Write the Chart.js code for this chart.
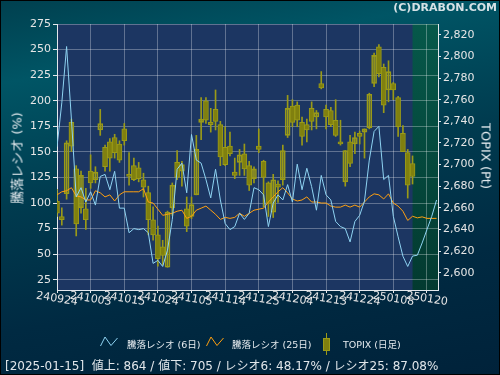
<!DOCTYPE html>
<html lang="ja">
<head>
<meta charset="UTF-8">
<title>騰落レシオ と TOPIX</title>
<script src="https://cdn.jsdelivr.net/npm/chart.js"></script>
<style>
  body { margin: 0; background: #000; }
  #wrap {
    position: relative; width: 500px; height: 375px; overflow: hidden;
    background: linear-gradient(170deg, #00404f 0%, #005565 18%, #003b4f 45%, #002a42 72%, #00223a 100%);
    box-shadow: inset 0 0 0 1px #000;
    font-family: "DejaVu Sans", "Noto Sans CJK JP", sans-serif;
    color: #e4eaee;
  }
  #c { position: absolute; left: 0; top: 0; }
  .abs { position: absolute; white-space: nowrap; }
  #copy { right: 3px; top: 1px; font-weight: bold; font-size: 11px; color: #d6e2e6; }
  #ytitle { left: 16px; top: 158px; font-size: 13px; transform: translate(-50%, -50%) rotate(-90deg); }
  #rtitle { left: 486px; top: 156px; font-size: 13px; transform: translate(-50%, -50%) rotate(90deg); }
  .lg { font-size: 9.5px; top: 337px; }
  #status { left: 5px; top: 356px; font-size: 12px; color: #e0e6ea; }
</style>
</head>
<body>
<div id="wrap">
  <canvas id="c" width="500" height="375"></canvas>
  <div id="copy" class="abs">(C)DRABON.COM</div>
  <div id="ytitle" class="abs">騰落レシオ (%)</div>
  <div id="rtitle" class="abs">TOPIX (Pt)</div>

  <svg class="abs" style="left:100px;top:336px" width="18" height="11">
    <polyline points="0.5,10 5,1 11,9.5 17.5,2" fill="none" stroke="#8ed3f2" stroke-width="1"/>
  </svg>
  <div class="abs lg" style="left:127px">騰落レシオ (6日)</div>
  <svg class="abs" style="left:206px;top:336px" width="18" height="11">
    <polyline points="0.5,10 5,1 11,9.5 17.5,2" fill="none" stroke="#ffa010" stroke-width="1"/>
  </svg>
  <div class="abs lg" style="left:232px">騰落レシオ (25日)</div>
  <svg class="abs" style="left:322px;top:333px" width="9" height="22">
    <line x1="4.5" y1="0" x2="4.5" y2="22" stroke="#9a9a18" stroke-width="1"/>
    <rect x="1.5" y="5.5" width="6" height="12" fill="#80800f" stroke="#9a9a18" stroke-width="1"/>
  </svg>
  <div class="abs lg" style="left:343px">TOPIX (日足)</div>

  <div id="status" class="abs">[2025-01-15]&nbsp; 値上: 864 / 値下: 705 / レシオ6: 48.17% / レシオ25: 87.08%</div>
</div>

<script>
  // tick positions (trading-day index) and their labels
  const tickIdx = [0, 7, 14, 21, 28, 35, 42, 49, 56, 63, 70, 77];
  const dates = ['240924', '241003', '241015', '241024', '241105', '241114',
                 '241125', '241204', '241213', '241224', '250108', '250120'];

  // 騰落レシオ (6日)
  const ratio6 = [155, 198, 253, 182, 106, 115, 101, 111, 98, 126,
                  128, 113, 131, 95, 95, 71, 75, 74, 75, 71,
                  41, 44, 38, 54, 84, 133, 139, 110, 167, 142,
                  139, 123, 105, 133, 103, 80, 74, 77, 90, 84,
                  90, 115, 113, 108, 77, 100, 108, 103, 118, 101,
                  138, 113, 134, 116, 93, 127, 108, 103, 82, 77,
                  75, 62, 82, 88, 102, 142, 170, 175, 123, 127,
                  87, 67, 48, 38, 48.17, 49, 61, 74, 87, 103];

  // 騰落レシオ (25日)
  const ratio25 = [108, 111, 112, 115, 107, 106, 103, 103, 112, 110,
                   106, 108, 102, 108, 111, 111, 111, 111, 114, 101,
                   100, 94, 88, 89, 90, 92, 93, 85, 87, 93,
                   95, 97, 93, 89, 84, 86, 85, 86, 90, 87,
                   90, 93, 94, 95, 101, 106, 111, 115, 110, 104,
                   102, 103, 106, 101, 101, 100, 100, 97, 96, 96,
                   98, 96, 98, 96, 101, 106, 109, 108, 104, 109,
                   100, 97, 92, 83, 87.08, 85.5, 86.5, 85, 85, 85];

  // TOPIX daily OHLC
  const topixOpen = [2666, 2652, 2673, 2739, 2696, 2660, 2659, 2694, 2686, 2732,
                     2716, 2721, 2725, 2719, 2733, 2691, 2699, 2697, 2686, 2674,
                     2649, 2635, 2624, 2605, 2660, 2702, 2694, 2659, 2652, 2672,
                     2739, 2759, 2739, 2751, 2737, 2716, 2717, 2693, 2702, 2710,
                     2699, 2687, 2717, 2703, 2683, 2656, 2682, 2686, 2727, 2754,
                     2755, 2739, 2737, 2752, 2744, 2775, 2751, 2750, 2741, 2721,
                     2684, 2721, 2719, 2729, 2730, 2734, 2775, 2809, 2790, 2769,
                     2775, 2762, 2729, 2711, 2701];
  const topixHigh = [2677, 2660, 2722, 2742, 2699, 2694, 2678, 2709, 2698, 2751,
                     2718, 2724, 2728, 2722, 2738, 2711, 2706, 2702, 2692, 2680,
                     2661, 2643, 2630, 2657, 2683, 2713, 2703, 2670, 2670, 2727,
                     2762, 2762, 2752, 2769, 2740, 2735, 2730, 2706, 2714, 2719,
                     2703, 2698, 2733, 2704, 2684, 2691, 2685, 2718, 2764, 2760,
                     2758, 2744, 2742, 2758, 2750, 2786, 2755, 2753, 2760, 2741,
                     2713, 2727, 2730, 2731, 2733, 2766, 2803, 2811, 2793, 2796,
                     2776, 2763, 2736, 2714, 2708];
  const topixLow = [2652, 2644, 2668, 2712, 2634, 2655, 2640, 2678, 2683, 2727,
                    2694, 2694, 2706, 2702, 2718, 2681, 2685, 2684, 2670, 2635,
                    2630, 2606, 2607, 2605, 2653, 2686, 2680, 2638, 2650, 2672,
                    2723, 2738, 2730, 2732, 2699, 2699, 2708, 2687, 2690, 2690,
                    2676, 2683, 2711, 2661, 2652, 2651, 2665, 2681, 2725, 2735,
                    2735, 2718, 2721, 2732, 2733, 2770, 2733, 2735, 2726, 2718,
                    2680, 2698, 2710, 2719, 2706, 2733, 2772, 2781, 2748, 2758,
                    2760, 2726, 2712, 2669, 2682];
  const topixClose = [2655, 2649, 2720, 2717, 2645, 2690, 2649, 2683, 2693, 2738,
                      2698, 2706, 2711, 2704, 2722, 2689, 2686, 2687, 2679, 2649,
                      2635, 2613, 2616, 2656, 2681, 2688, 2700, 2643, 2663, 2714,
                      2742, 2741, 2737, 2740, 2707, 2700, 2710, 2690, 2709, 2696,
                      2681, 2696, 2714, 2688, 2664, 2686, 2679, 2713, 2752, 2739,
                      2741, 2726, 2732, 2740, 2748, 2771, 2744, 2737, 2727, 2719,
                      2713, 2701, 2725, 2726, 2733, 2765, 2801, 2784, 2755, 2786,
                      2769, 2735, 2712, 2681, 2689];

  const lastCandle = topixClose.length - 1;
  const candleLine = '#9a9a18';
  const candleFill = '#80800f';

  // plot background and the green zone after the last candle
  const backPlugin = {
    id: 'back',
    beforeDraw(chart) {
      const { ctx, chartArea: a, scales: { x } } = chart;
      ctx.save();
      ctx.fillStyle = '#1c3662';
      ctx.fillRect(a.left, a.top, a.right - a.left, a.bottom - a.top);
      const gx = x.getPixelForValue(lastCandle);
      const g = ctx.createLinearGradient(0, a.top, 0, a.bottom);
      g.addColorStop(0, '#06584a');
      g.addColorStop(1, '#033a30');
      ctx.fillStyle = g;
      ctx.fillRect(gx, a.top, a.right - gx, a.bottom - a.top);
      ctx.restore();
    }
  };

  // slanted date labels under the x axis
  const xLabelPlugin = {
    id: 'xlabels',
    afterDraw(chart) {
      const { ctx, chartArea: a, scales: { x } } = chart;
      ctx.save();
      ctx.font = '11px "DejaVu Sans"';
      ctx.fillStyle = '#e6e6e6';
      ctx.textAlign = 'center';
      ctx.textBaseline = 'middle';
      tickIdx.forEach((v, k) => {
        ctx.save();
        ctx.translate(x.getPixelForValue(v), a.bottom + 9);
        ctx.rotate(0.16);
        ctx.fillText(dates[k], 0, 0);
        ctx.restore();
      });
      ctx.restore();
    }
  };

  const gridColor = 'rgba(255,255,255,0.3)';
  const axisColor = '#e4e8ec';

  new Chart(document.getElementById('c'), {
    data: {
      datasets: [
        {
          type: 'line',
          label: '騰落レシオ (6日)',
          data: ratio6.map((v, i) => ({ x: i, y: v })),
          yAxisID: 'y',
          borderColor: '#8ed3f2',
          borderWidth: 1,
          pointRadius: 0,
          tension: 0,
          order: 0
        },
        {
          type: 'line',
          label: '騰落レシオ (25日)',
          data: ratio25.map((v, i) => ({ x: i, y: v })),
          yAxisID: 'y',
          borderColor: '#ffa010',
          borderWidth: 1,
          pointRadius: 0,
          tension: 0,
          order: 1
        },
        {
          type: 'bar',
          label: 'TOPIX body',
          data: topixOpen.map((o, i) => ({ x: i, y: [o, topixClose[i]] })),
          yAxisID: 'yr',
          backgroundColor: topixOpen.map((o, i) => topixClose[i] < o ? candleFill : 'rgba(0,0,0,0)'),
          borderColor: candleLine,
          borderWidth: 1,
          borderSkipped: false,
          barThickness: 5,
          grouped: false,
          order: 2
        },
        {
          type: 'bar',
          label: 'TOPIX wick',
          data: topixLow.map((l, i) => ({ x: i, y: [l, topixHigh[i]] })),
          yAxisID: 'yr',
          backgroundColor: candleLine,
          borderWidth: 0,
          barThickness: 1,
          grouped: false,
          order: 3
        }
      ]
    },
    options: {
      responsive: false,
      animation: false,
      devicePixelRatio: 1,
      layout: { padding: { top: 24, left: 0, right: 0, bottom: 0 } },
      plugins: { legend: { display: false }, tooltip: { enabled: false } },
      scales: {
        x: {
          type: 'linear',
          offset: false,
          min: 0,
          max: 79.3,
          afterBuildTicks: s => { s.ticks = tickIdx.map(v => ({ value: v })); },
          afterFit: s => { s.height = 85; },
          ticks: { display: false },
          grid: { offset: false, color: gridColor, tickColor: axisColor, tickLength: 3 },
          border: { color: axisColor }
        },
        y: {
          position: 'left',
          min: 15,
          max: 275,
          afterFit: s => { s.width = 57; },
          ticks: {
            stepSize: 25, includeBounds: false, padding: 2,
            color: '#e6e6e6', font: { family: 'DejaVu Sans', size: 11 }
          },
          grid: { color: gridColor, tickColor: axisColor, tickLength: 4 },
          border: { color: axisColor }
        },
        yr: {
          position: 'right',
          min: 2584,
          max: 2830,
          afterFit: s => { s.width = 62; },
          ticks: {
            stepSize: 20, includeBounds: false, padding: 2,
            color: '#e6e6e6', font: { family: 'DejaVu Sans', size: 11 },
            callback: v => v.toLocaleString('en-US')
          },
          grid: { drawOnChartArea: false, tickColor: axisColor, tickLength: 3 },
          border: { color: axisColor }
        }
      }
    },
    plugins: [backPlugin, xLabelPlugin]
  });
</script>
</body>
</html>
